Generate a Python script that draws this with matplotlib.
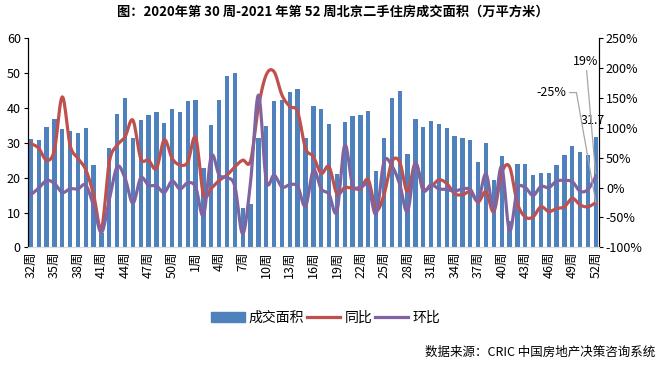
import numpy as np
import matplotlib
matplotlib.use("Agg")
import matplotlib.pyplot as plt
from matplotlib.patches import Patch
from matplotlib.lines import Line2D

plt.rcParams['font.family'] = ['Noto Sans CJK SC', 'DejaVu Sans']

# weeks: 2020 w32..w52, 2021 w1..w52
weeks = list(range(32, 53)) + list(range(1, 53))
week_labels = [f"{w}周" for w in weeks]

# 成交面积 (万平方米)
area = [31.1, 30.8, 34.5, 36.8, 34.0, 33.4, 32.8, 34.3, 23.6, 4.0,
        28.5, 38.3, 42.9, 31.4, 36.6, 38.0, 38.9, 35.7, 39.7, 38.9,
        42.0, 42.3, 22.8, 35.1, 42.3, 49.2, 50.0, 11.3, 12.4, 31.4,
        34.8, 42.0, 42.3, 44.6, 45.5, 31.4, 40.6, 39.7, 35.4, 21.1,
        36.0, 37.7, 38.0, 39.1, 21.9, 31.4, 42.9, 44.9, 26.8, 36.8,
        34.5, 36.3, 35.4, 34.3, 32.0, 31.4, 30.8, 24.5, 30.0, 19.3,
        26.2, 7.5, 23.9, 23.9, 20.8, 21.3, 21.3, 23.6, 26.5, 29.1,
        27.4, 26.5, 31.7]

# 同比 (%)
yoy = [74, 66, 46, 63, 152, 71, 49, 30, -12, -68,
       43, 71, 85, 113, 49, 46, 32, 80, 49, 38,
       43, 84, -12, -1, 12, 21, 35, 46, 45, 135,
       189, 194, 155, 136, 127, 66, 52, 24, 35, -10,
       0, -1, -2, 13, -37, -12, 43, 43, -7, 41,
       -1, 2, 13, 7, -10, -12, -7, -24, -7, -40,
       24, 35, -26, -49, -49, -32, -40, -35, -32, -18,
       -29, -32, -25]

# 环比 (%)
mom = [-12, -1, 12, 7, -8, -2, -2, 4, -31, -75,
       -20, 35, 16, -26, 16, 4, 3, -8, 11, -2,
       8, 1, -46, 53, 21, 17, 2, -77, 10, 155,
       12, 21, 1, 5, 2, -31, 29, -2, -11, -40,
       71, 5, 1, 3, -44, 43, 37, 6, -40, 40,
       -5, 5, -2, -3, -6, -2, -3, -21, 23, -36,
       35, -72, -3, 0, -13, 2, 0, 11, 12, 10,
       -6, -3, 19]

blue = "#4F81BD"
red = "#C0504D"
purple = "#8064A2"


def smooth(x, y, n=12):
    # Excel-style smoothed line (uniform Catmull-Rom between the points)
    x = np.asarray(x, float)
    y = np.asarray(y, float)
    px = np.concatenate([[2 * x[0] - x[1]], x, [2 * x[-1] - x[-2]]])
    py = np.concatenate([[2 * y[0] - y[1]], y, [2 * y[-1] - y[-2]]])
    t = np.linspace(0, 1, n, endpoint=False)
    xs, ys = [], []
    for i in range(1, len(px) - 2):
        for p, out in ((px, xs), (py, ys)):
            p0, p1, p2, p3 = p[i - 1], p[i], p[i + 1], p[i + 2]
            out.extend(0.5 * (2 * p1 + (-p0 + p2) * t
                              + (2 * p0 - 5 * p1 + 4 * p2 - p3) * t ** 2
                              + (-p0 + 3 * p1 - 3 * p2 + p3) * t ** 3))
    xs.append(x[-1])
    ys.append(y[-1])
    return np.array(xs), np.array(ys)


x = np.arange(len(area))

fig = plt.figure(figsize=(6.65, 3.67), dpi=100)
ax = fig.add_axes([0.0417, 0.326, 0.859, 0.5695])
ax2 = ax.twinx()

ax.bar(x, area, width=0.55, color=blue, zorder=2)
sx, sy = smooth(x, yoy)
ax2.plot(sx, sy, color=red, lw=2.3, solid_capstyle='round')
sx, sy = smooth(x, mom)
ax2.plot(sx, sy, color=purple, lw=2.3, solid_capstyle='round')

ax.set_xlim(-0.4, len(area) - 0.6)
ax.set_ylim(0, 60)
ax.set_yticks(range(0, 61, 10))
ax2.set_ylim(-100, 250)
ax2.set_yticks(range(-100, 251, 50))
ax2.set_yticklabels([f"{v}%" for v in range(-100, 251, 50)])

ax.set_xticks(x[::3])
ax.set_xticklabels(week_labels[::3], rotation=90)
ax.tick_params(axis='x', length=0, pad=3, labelsize=9)
ax.tick_params(axis='y', length=3, width=0.8, pad=2, labelsize=9)
ax2.tick_params(axis='y', length=3, width=0.8, pad=2, labelsize=9)

for a in (ax, ax2):
    a.spines['top'].set_visible(False)
    a.spines['bottom'].set_color('#D9D9D9')
    a.spines['left'].set_linewidth(0.8)
    a.spines['right'].set_linewidth(0.8)

# data labels for the last week
last = len(area) - 1
ax.annotate(f"{area[last]}", (last, area[last]), xytext=(-3, 16),
            textcoords='offset pixels', ha='center', va='center', fontsize=9)
ax2.annotate(f"{yoy[last]}%", (last, yoy[last]), xytext=(-44, 110),
             textcoords='offset pixels', ha='center', va='center', fontsize=9,
             arrowprops=dict(arrowstyle='-', color='#A6A6A6', lw=0.9,
                             relpos=(1, 0.5), shrinkA=0, shrinkB=0,
                             connectionstyle='angle,angleA=0,angleB=100,rad=0'))
ax2.annotate(f"{mom[last]}%", (last, mom[last]), xytext=(-10, 115),
             textcoords='offset pixels', ha='center', va='center', fontsize=9,
             arrowprops=dict(arrowstyle='-', color='#A6A6A6', lw=0.9,
                             shrinkA=0, shrinkB=2))

fig.text(0.5, 0.967, "图：2020年第 30 周-2021 年第 52 周北京二手住房成交面积（万平方米）",
         ha='center', va='center', fontsize=9.5, fontweight='bold')

handles = [Patch(color=blue), Line2D([], [], color=red, lw=2.3),
           Line2D([], [], color=purple, lw=2.3)]
fig.legend(handles, ["成交面积", "同比", "环比"], loc='center',
           bbox_to_anchor=(0.49, 0.133), ncol=3, frameon=False, fontsize=10,
           handlelength=2.4, handletextpad=0.3, columnspacing=0.2)

fig.text(0.985, 0.04, "数据来源：CRIC 中国房地产决策咨询系统", ha='right',
         va='center', fontsize=9)

fig.savefig("out.png", dpi=100)
